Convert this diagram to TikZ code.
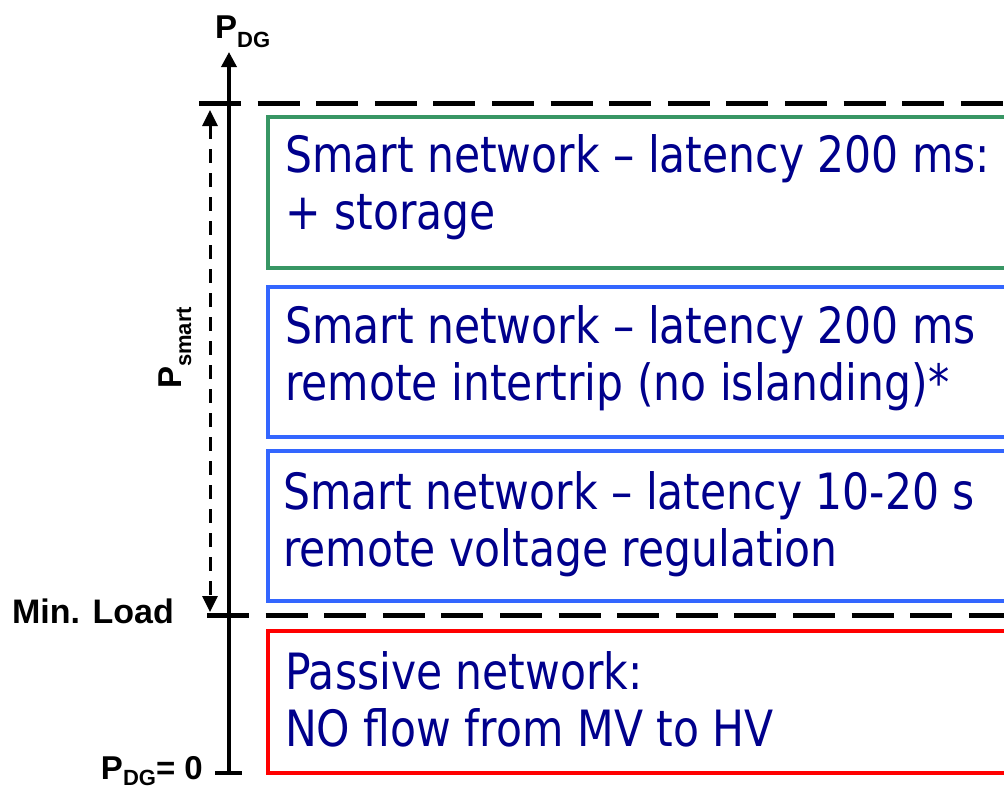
\documentclass[tikz,border=0pt]{standalone}
\usepackage{fontspec}
\usetikzlibrary{arrows.meta}
\newfontfamily\boxfont{DejaVu Sans}[FakeStretch=0.85]
\newfontfamily\labfont{Liberation Sans}
\definecolor{navytxt}{RGB}{0,0,140}
\definecolor{boxgreen}{RGB}{56,150,100}
\definecolor{boxblue}{RGB}{51,102,255}
\definecolor{boxred}{RGB}{255,0,0}
\tikzset{
  boxline/.style={draw=#1, line width=4pt, fill=none, anchor=north west, inner sep=0pt},
  boxtext/.style={anchor=base west, inner sep=0pt, text=navytxt, font=\boxfont\fontsize{50}{57}\selectfont},
  lab/.style={inner sep=0pt, font=\labfont\bfseries\fontsize{33}{33}\selectfont},
  levelline/.style={line width=5pt, dash pattern=on 42pt off 16.6pt},
  axisline/.style={line width=3.5pt},
  smartarrow/.style={line width=3pt, dash pattern=on 14pt off 10pt, {Triangle[length=16pt,width=15pt]}-{Triangle[length=16pt,width=15pt]}}
}
\begin{document}
\begin{tikzpicture}[x=1pt,y=-1pt]
\useasboundingbox (0,0) rectangle (1004,790);
\begin{scope}
\clip (0,0) rectangle (1004,790);
% level lines
\coordinate (topL) at (199,103);
\coordinate (topR) at (1030,103);
\coordinate (minL) at (207,615);
\coordinate (minR) at (1030,615);
\draw[levelline] (topL) -- (topR);
\draw[levelline] (minL) -- (minR);
% boxes
\path (265.5,115) node[boxline=boxgreen, minimum width=780pt, minimum height=151pt] (gbox) {};
\path (265.5,285) node[boxline=boxblue, minimum width=780pt, minimum height=150pt] (b1box) {};
\path (265.5,449) node[boxline=boxblue, minimum width=780pt, minimum height=150pt] (b2box) {};
\path (265.5,629) node[boxline=boxred, minimum width=780pt, minimum height=142pt] (rbox) {};
% box texts
\node[boxtext] (g1) at (285,172) {Smart network – latency 200 ms:};
\node[boxtext] (g2) at (285,229) {+ storage};
\node[boxtext] (b11) at (285,343) {Smart network – latency 200 ms};
\node[boxtext] (b12) at (285,400) {remote intertrip (no islanding)*};
\node[boxtext] (b21) at (283,509) {Smart network – latency 10-20 s};
\node[boxtext] (b22) at (283,566) {remote voltage regulation};
\node[boxtext] (r1) at (285,689) {Passive network:};
\node[boxtext] (r2) at (285,746) {NO flow from MV to HV};
\end{scope}
% axis
\coordinate (axbot) at (229,773);
\coordinate (axtop) at (229,52);
\coordinate (tickL) at (215,773);
\coordinate (tickR) at (242,773);
\draw[axisline, -{Triangle[length=15pt,width=15pt]}] (axbot) -- (axtop);
\draw[line width=4pt] (tickL) -- (tickR);
% P_smart arrow
\coordinate (smtop) at (210,110);
\coordinate (smbot) at (210,612);
\draw[smartarrow] (smtop) -- (smbot);
% labels
\node[lab, anchor=base west] (pdg) at (215,38) {P\raisebox{-9pt}{\fontsize{22}{22}\selectfont DG}};
\node[lab, anchor=base east] (pdg0) at (203,779) {P\raisebox{-6pt}{\fontsize{22}{22}\selectfont DG}= 0};
\node[lab, anchor=base east, font=\labfont\bfseries\fontsize{34}{34}\selectfont] (minload) at (174,623) {Min. Load};
\node[lab, anchor=base west, rotate=90] (psmart) at (181,389) {P\raisebox{-10pt}{\fontsize{22}{22}\selectfont smart}};
\end{tikzpicture}
\end{document}
